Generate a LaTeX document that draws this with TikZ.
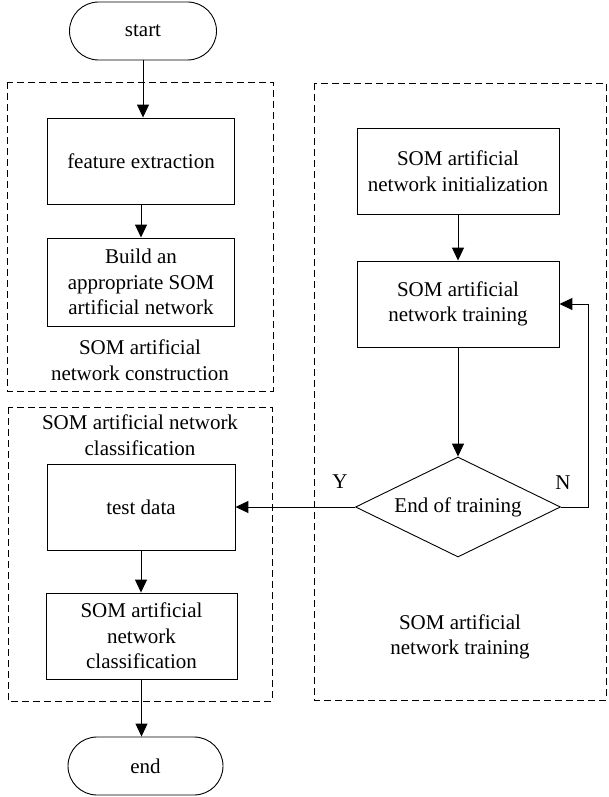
\documentclass[tikz,border=0pt]{standalone}
\usepackage{fontspec}
\setmainfont{Liberation Serif}
\usetikzlibrary{shapes.geometric,arrows.meta,positioning}
\tikzset{
  every picture/.style = {
    font=\fontsize{21}{25.5}\selectfont
  },
  terminal/.style={
    shape = rectangle,
    draw,
    rounded corners = 29pt,
    line width = 0.9pt,
    minimum height = 58pt
  },
  stepbox/.style={
    shape = rectangle,
    draw,
    align = center,
    line width = 0.9pt,
    inner sep = 2pt
  },
  decision/.style={
    shape = diamond,
    draw,
    aspect = 2.05,
    inner sep = 1pt,
    line width = 0.9pt,
    minimum width = 205pt,
    minimum height = 100pt
  },
  group/.style={
    draw,
    line width = 0.8pt,
    dash pattern = on 7pt off 4pt
  },
  caption/.style={
    align = center,
    inner sep = 0pt
  },
  arr/.style={
    line width = 1pt,
    -{Triangle[length=13pt,width=12pt]}
  }
}

\begin{document}
\begin{tikzpicture}[x=1pt,y=-1pt]
  \useasboundingbox (0,0) rectangle (608,797);

  % dashed groups
  \draw[group] (7,82) rectangle (273,391);
  \draw[group] (8,407) rectangle (272,701);
  \draw[group] (314,83) rectangle (606,700);

  % left column
  \node[terminal, minimum width=147pt] (start) at (143,31) {start};
  \node[stepbox, minimum width=187pt, minimum height=86pt] (feat) at (141,161) {feature extraction};
  \node[stepbox, minimum width=187pt, minimum height=88pt] (build) at (141,282) {Build an\\appropriate SOM\\artificial network};
  \node[caption] (constr) at (140,360) {SOM artificial\\network construction};

  \node[caption] (classlbl) at (140,435) {SOM artificial network\\classification};
  \node[stepbox, minimum width=188pt, minimum height=86pt] (test) at (141,507) {test data};
  \node[stepbox, minimum width=191pt, minimum height=86pt] (classif) at (141.5,636) {SOM artificial\\network\\classification};
  \node[terminal, minimum width=155pt] (end) at (145.5,766) {end};

  % right column
  \node[stepbox, minimum width=202pt, minimum height=86pt] (init) at (458,171) {SOM artificial\\network initialization};
  \node[stepbox, minimum width=202pt, minimum height=86pt] (train) at (458,304) {SOM artificial\\network training};
  \node[decision] (endtrain) at (458,507) {End of training};
  \node[caption] (trainlbl) at (460,637) {SOM artificial\\network training};

  \node (ylbl) at (340,482) {Y};
  \node (nlbl) at (563,483) {N};
  \coordinate (loop) at (588,507);

  % connectors
  \draw[arr] (start.south) -- (start.south |- feat.north);
  \draw[arr] (feat.south) -- (build.north);
  \draw[arr] (init.south) -- (train.north);
  \draw[arr] (train.south) -- (endtrain.north);
  \draw[arr] (endtrain.east) -- (loop) |- (train.east);
  \draw[arr] (endtrain.west) -- (test.east);
  \draw[arr] (test.south) -- (test.south |- classif.north);
  \draw[arr] (classif.south) -- (classif.south |- end.north);
\end{tikzpicture}
\end{document}
